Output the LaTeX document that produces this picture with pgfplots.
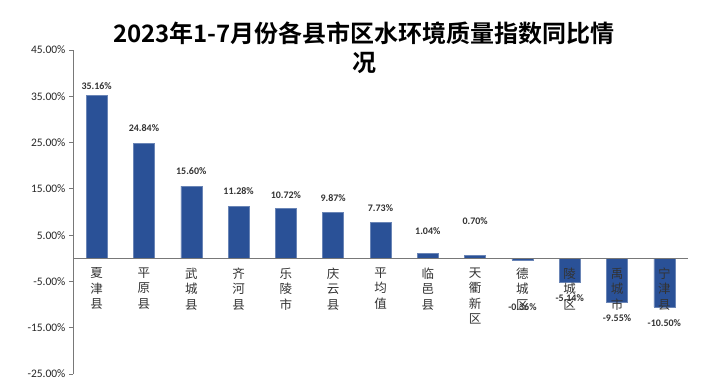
\documentclass[border=0pt]{standalone}
\usepackage{pgfplots}
\pgfplotsset{compat=1.18}
\usepackage{pgfplotstable}
\usepackage{fontspec}
\setmainfont{Carlito}
\newfontfamily\cjk{Noto Sans CJK SC}
\newfontfamily\cjkb{Noto Sans CJK SC Bold}
\definecolor{barblue}{RGB}{42,81,151}
\definecolor{axgray}{RGB}{120,120,120}
\pgfplotstableread{
x y ly
0 35.16 37.3
1 24.84 28.1
2 15.60 18.8
3 11.28 14.5
4 10.72 13.7
5 9.87 13.0
6 7.73 10.9
7 1.04 5.9
8 0.70 8.1
9 -0.36 -10.6
10 -5.14 -8.7
11 -9.55 -13.0
12 -10.50 -13.9
}\datatable
\begin{document}
\begin{tikzpicture}[x=1pt,y=1pt]
\path[use as bounding box] (0,0) rectangle (720,380);
\begin{axis}[
  at={(73pt,6pt)}, anchor=south west,
  scale only axis, width=615pt, height=324pt,
  xmin=-0.5, xmax=12.5, ymin=-25, ymax=45,
  axis y line*=left, axis x line*=middle,
  axis on top,
  axis line style={axgray, line width=0.8pt},
  ytick={-25,-15,-5,5,15,25,35,45},
  yticklabels={-25.00\%,-15.00\%,-5.00\%,5.00\%,15.00\%,25.00\%,35.00\%,45.00\%},
  yticklabel style={font=\fontsize{11.5}{12}\selectfont, text=black!85},
  ytick style={axgray, line width=0.8pt},
  tick align=outside, major tick length=4pt,
  xtick={0,...,12},
  xticklabels={夏\\津\\县,平\\原\\县,武\\城\\县,齐\\河\\县,乐\\陵\\市,庆\\云\\县,平\\均\\值,临\\邑\\县,天\\衢\\新\\区,德\\城\\区,陵\\城\\区,禹\\城\\市,宁\\津\\县},
  xticklabel style={font=\cjk\fontsize{12.5}{15.5}\selectfont, align=center, text=black!80, yshift=-2pt},
  x tick style={draw=none},
  minor xtick={-0.5,0.5,...,12.5},
  minor x tick style={axgray, line width=0.8pt},
  minor tick length=5pt,
  clip=false,
  /pgf/number format/assume math mode=true,
]
\addplot[ybar, bar width=21pt, fill=barblue, draw=barblue!70!white, line width=0.4pt] table[x=x,y=y]{\datatable};
\addplot[only marks, mark=none, nodes near coords, point meta=explicit,
  nodes near coords style={anchor=center, font=\bfseries\fontsize{10}{10}\selectfont, text=black!80},
  nodes near coords={\pgfmathprintnumber[fixed,fixed zerofill,precision=2,assume math mode=true]{\pgfplotspointmeta}\%}]
  table[x=x,y=ly,meta=y]{\datatable};
\end{axis}
\node[font=\cjkb\fontsize{24}{29}\selectfont, align=center, anchor=center] at (364,332) {\strut 2023年1-7月份各县市区水环境质量指数同比情\\况};
\end{tikzpicture}
\end{document}
